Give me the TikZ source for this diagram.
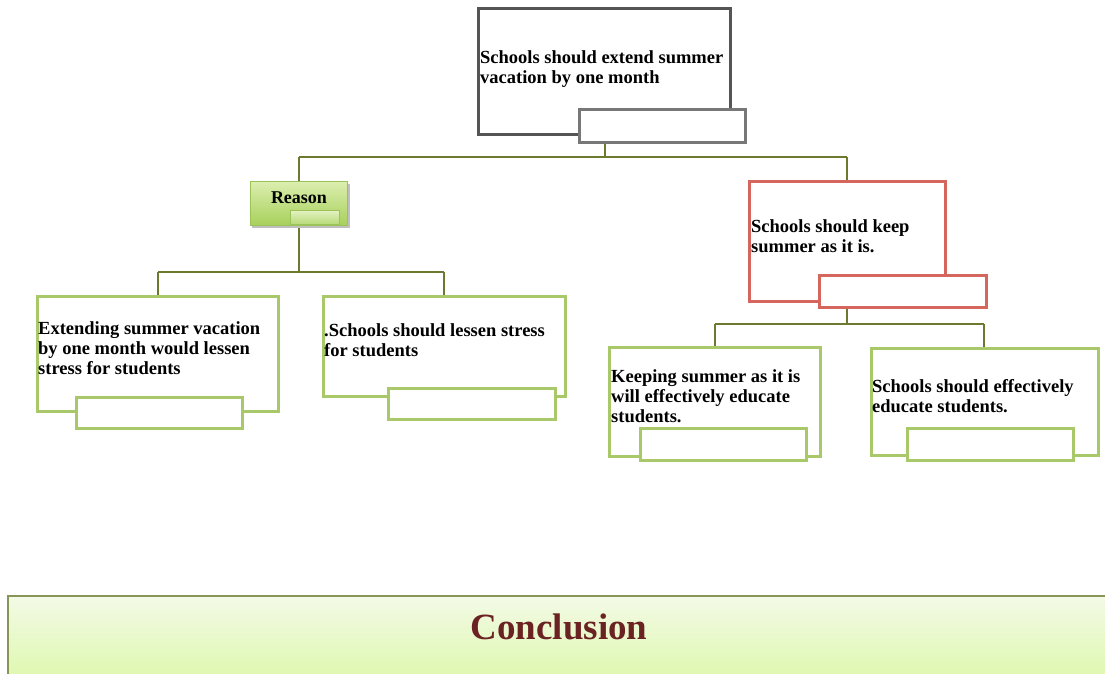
\documentclass[tikz,border=0pt]{standalone}
\usepackage{fontspec}
\setmainfont{Liberation Serif}
\usetikzlibrary{positioning}
\definecolor{olive}{HTML}{6B7A2E}
\definecolor{grayb}{HTML}{555555}
\definecolor{graysm}{HTML}{777777}
\definecolor{greenb}{HTML}{A9C869}
\definecolor{redb}{HTML}{D4665E}
\definecolor{concl}{HTML}{6B2222}
\definecolor{conctop}{HTML}{F3FAE6}
\definecolor{concbot}{HTML}{DEF8AE}
\definecolor{reatop}{HTML}{DCEFB0}
\definecolor{reabot}{HTML}{A8D05C}
\definecolor{reaedge}{HTML}{9CC25A}
\definecolor{reasmtop}{HTML}{E4F3C4}
\definecolor{reasmbot}{HTML}{B8DA78}
\tikzset{
  bigbox/.style={draw, line width=3pt, fill=white},
  smallbox/.style={draw, line width=3pt, fill=white},
  conn/.style={draw=olive, line width=1.3pt},
  txt/.style={font=\bfseries\fontsize{18.5}{20}\selectfont, align=left, anchor=west, inner sep=0pt, text=black},
}
\begin{document}
\begin{tikzpicture}[x=1pt,y=-1pt]
\useasboundingbox (0,0) rectangle (1105,674);
% coordinates
\coordinate (topbot) at (605,142);
\coordinate (bar1) at (605,157);
\coordinate (bar1L) at (299,157);
\coordinate (bar1R) at (847,157);
\coordinate (reasonbot) at (299,225);
\coordinate (bar2) at (299,272);
\coordinate (bar2L) at (158,272);
\coordinate (bar2R) at (444,272);
\coordinate (redbot) at (847,307);
\coordinate (bar3) at (847,324);
\coordinate (bar3L) at (715,324);
\coordinate (bar3R) at (984,324);
% connectors
\draw[conn] (topbot) -- (bar1);
\draw[conn] (bar1L) -- (bar1R);
\draw[conn] (bar1L) -- (299,181);
\draw[conn] (bar1R) -- (847,181);
\draw[conn] (reasonbot) -- (bar2);
\draw[conn] (bar2L) -- (bar2R);
\draw[conn] (bar2L) -- (158,296);
\draw[conn] (bar2R) -- (444,296);
\draw[conn] (redbot) -- (bar3);
\draw[conn] (bar3L) -- (bar3R);
\draw[conn] (bar3L) -- (715,347);
\draw[conn] (bar3R) -- (984,347);
% top box
\draw[bigbox, draw=grayb] (478,9) rectangle (730,135);
\draw[smallbox, draw=graysm] (579,110) rectangle (745,142);
\node[txt] (t0) at (480,69) {Schools should extend summer\\vacation by one month};
% reason
\fill[black!25] (252,184) rectangle (350,228);
\shade[top color=reatop, bottom color=reabot] (250,181) rectangle (347,225);
\draw[line width=1pt, draw=reaedge] (250,181) rectangle (347,225);
\shade[top color=reasmtop, bottom color=reasmbot] (290,210) rectangle (339,224);
\draw[line width=0.8pt, draw=reaedge] (290,210) rectangle (339,224);
\node[txt, anchor=center, font=\bfseries\fontsize{18}{20}\selectfont] (reason) at (299,198) {Reason};
% left boxes
\draw[bigbox, draw=greenb] (37,296) rectangle (278,411);
\draw[smallbox, draw=greenb] (76,397) rectangle (242,428);
\node[txt] (t1) at (38,348) {Extending summer vacation\\by one month would lessen\\stress for students};
\draw[bigbox, draw=greenb] (323,296) rectangle (565,396);
\draw[smallbox, draw=greenb] (388,388) rectangle (555,419);
\node[txt] (t2) at (324,340) {.Schools should lessen stress\\for students};
% red box
\draw[bigbox, draw=redb] (749,181) rectangle (945,301);
\draw[smallbox, draw=redb] (819,275) rectangle (986,307);
\node[txt] (t3) at (751,236) {Schools should keep\\summer as it is.};
% right children
\draw[bigbox, draw=greenb] (609,347) rectangle (820,456);
\draw[smallbox, draw=greenb] (640,428) rectangle (806,460);
\node[txt] (t4) at (611,396) {Keeping summer as it is\\will effectively educate\\students.};
\draw[bigbox, draw=greenb] (871,348) rectangle (1098,455);
\draw[smallbox, draw=greenb] (907,428) rectangle (1073,460);
\node[txt] (t5) at (872,396) {Schools should effectively\\educate students.};
% conclusion
\shade[top color=conctop, bottom color=concbot] (8,596) rectangle (1110,680);
\draw[draw=olive!80, line width=1.5pt] (8,680) -- (8,596) -- (1110,596);
\node[font=\bfseries\fontsize{37}{40}\selectfont, text=concl, inner sep=0pt] (concl) at (559,627) {Conclusion};
\end{tikzpicture}
\end{document}
